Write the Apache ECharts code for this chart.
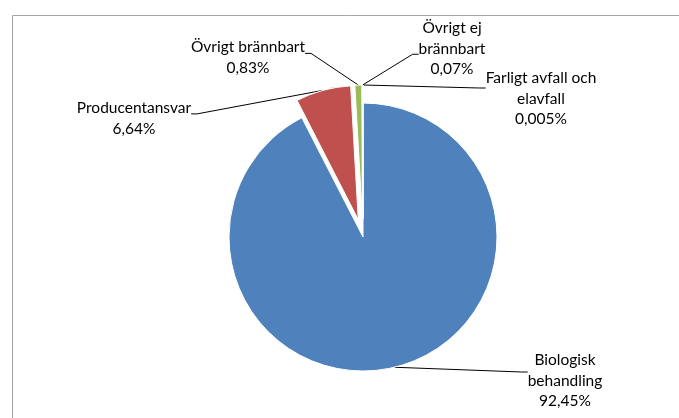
<!DOCTYPE html>
<html>
<head>
<meta charset="utf-8">
<script src="https://cdn.jsdelivr.net/npm/echarts@6/dist/echarts.min.js"></script>
<style>
	html, body { margin: 0; padding: 0; background: #fff; }
	#main { width: 679px; height: 418px; }
</style>
</head>
<body>
<div id="main"></div>
<script>
// data
var categories = ['Biologisk\nbehandling', 'Producentansvar', 'Övrigt brännbart', 'Övrigt ej\nbrännbart', 'Farligt avfall och\nelavfall'];
var shares = [92.45, 6.64, 0.83, 0.07, 0.005];
var colors = ['#4f81bd', '#c0504d', '#9bbb59', '#8064a2', '#4bacc6'];
// utdragna bitar
var exploded = [false, true, true, true, true];

(function () {
	let myChart = echarts.init(document.getElementById('main'))

	var R = 134, OFFSET = 18, LH = 20.5
	// etiketter: [mitt x, textens överkant, y där linjen fäster]
	var labelSpec = [
		[565, 350, 366],
		[134, 98, 112],
		[248, 37, 52],
		[452, 18, 57],
		[541, 68, 80]
	];

	// tom rad ovanför/under texten så att linjen fäster på rätt höjd
	function gapFor(i, nLines) {
		var H = nLines * LH
		var d = labelSpec[i][2] - (labelSpec[i][1] + H / 2)
		return d < 0 ? { top: -2 * d, bottom: 0 } : { top: 0, bottom: 2 * d }
	}

	var richStyles = {
		t: { color: '#000', fontFamily: 'Lato', fontSize: 15.5, lineHeight: LH }
	}
	labelSpec.forEach(function (s, i) {
		var n = categories[i].split('\n').length + 1
		var g = gapFor(i, n)
		richStyles['top' + i] = { fontSize: 1, lineHeight: Math.max(g.top, 1) }
		richStyles['bot' + i] = { fontSize: 1, lineHeight: Math.max(g.bottom, 1) }
	})

	var labelCommon = {
		align: 'center',
		rich: richStyles,
		formatter: function (p) {
			var i = p.dataIndex
			var lines = (p.name + '\n' + String(p.value).replace('.', ',') + '%').split('\n')
			var g = gapFor(i, lines.length)
			var txt = lines.map(function (l) { return '{t|' + l + '}' })
			if (g.top > 0) txt.unshift('{top' + i + '| }')
			if (g.bottom > 0) txt.push('{bot' + i + '| }')
			return txt.join('\n')
		}
	}

	function layoutFn(params) {
		var s = labelSpec[params.dataIndex]
		return { x: s[0], y: s[2], align: 'center', verticalAlign: 'middle' }
	}

	function buildData(forExploded) {
		return categories.map(function (name, i) {
			var show = forExploded ? exploded[i] : !exploded[i]
			return {
				name: name,
				value: shares[i],
				selected: forExploded ? false : exploded[i],
				label: { show: show },
				labelLine: { show: show }
			}
		})
	}

	var lineCommon = { length: 10, length2: 6, lineStyle: { color: '#000', width: 1 } }

	let option = {
		animation: false,
		color: colors,
		graphic: [{
			type: 'rect',
			left: 10,
			top: 13,
			shape: { width: 720, height: 430 },
			style: { fill: 'none', stroke: '#a6a6a6', lineWidth: 1 }
		}],
		series: [{
			// själva tårtan
			type: 'pie',
			center: [363, 237],
			radius: [0, R],
			startAngle: 90,
			clockwise: true,
			selectedMode: 'multiple',
			selectedOffset: OFFSET,
			avoidLabelOverlap: false,
			itemStyle: { borderColor: '#fff', borderWidth: 1 },
			label: labelCommon,
			labelLine: lineCommon,
			labelLayout: layoutFn,
			data: buildData(false)
		}, {
			// osynlig kopia som bär etiketterna för de utdragna bitarna
			type: 'pie',
			silent: true,
			center: [363, 237],
			radius: [0, R + OFFSET],
			startAngle: 90,
			clockwise: true,
			avoidLabelOverlap: false,
			itemStyle: { color: 'rgba(0,0,0,0)' },
			label: labelCommon,
			labelLine: lineCommon,
			labelLayout: layoutFn,
			data: buildData(true)
		}]
	};
	myChart.setOption(option)
})()
</script>
</body>
</html>
